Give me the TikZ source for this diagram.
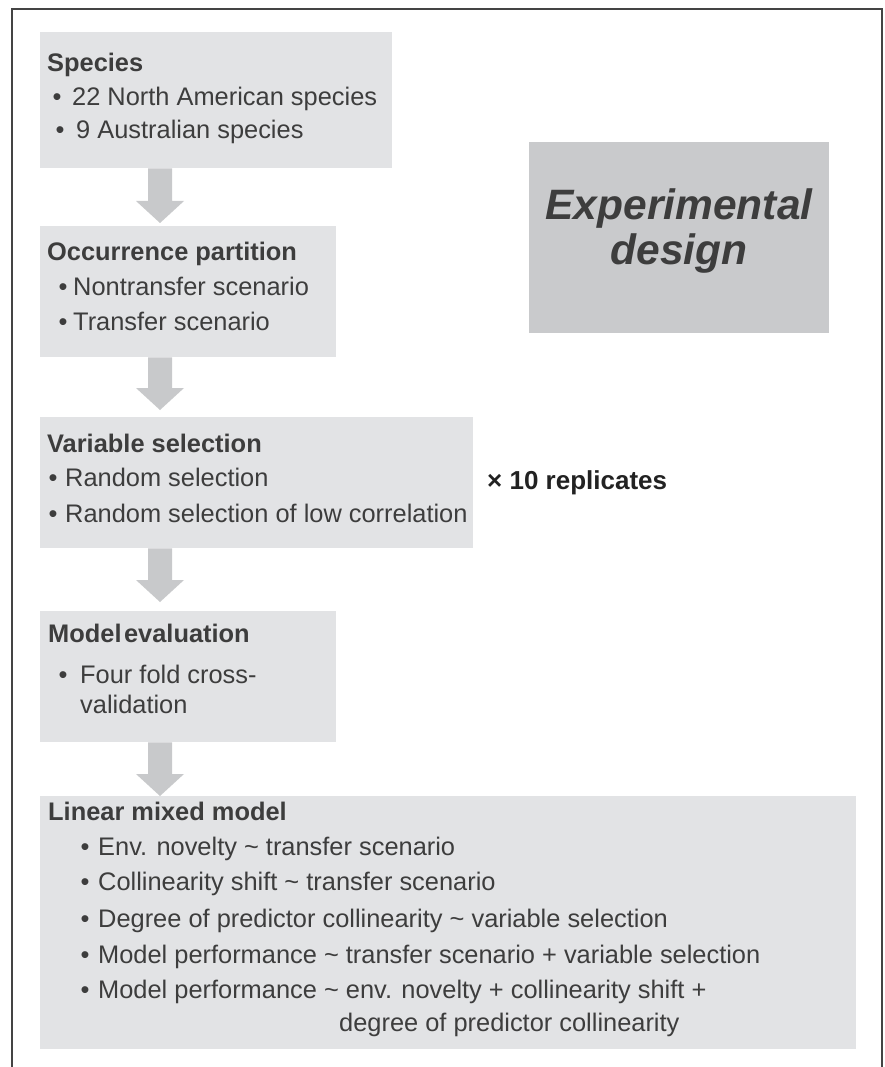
\documentclass[tikz,border=0pt]{standalone}
\usepackage{fontspec}
\setmainfont{Liberation Sans}
\usetikzlibrary{calc}
\definecolor{boxfill}{HTML}{E2E3E5}
\definecolor{expfill}{HTML}{C9CACC}
\definecolor{arrowfill}{HTML}{C8C9CB}
\definecolor{txtc}{HTML}{3D3D3D}
\definecolor{repc}{HTML}{222222}
\definecolor{framec}{HTML}{444444}
\tikzset{
  box/.style={fill=boxfill, draw=none, inner sep=0pt, anchor=north west},
  expbox/.style={fill=expfill, draw=none, inner sep=0pt, anchor=north west},
  txt/.style={inner sep=0pt, text=txtc, font=\fontsize{25.4}{30}\selectfont},
  ttl/.style={txt, anchor=base west, font=\fontsize{25.4}{30}\selectfont\bfseries},
  ln/.style={txt, anchor=base west},
  dot/.style={txt, anchor=base},
}
\newcommand\blockarrow[3]{%
  \fill[arrowfill] let \p1=(#1.south west), \p2=(#2.north west) in
    (\x1+108pt,\y1) -- (\x1+132pt,\y1) -- (\x1+132pt,\y2+#3pt+22pt) --
    (\x1+144pt,\y2+#3pt+22pt) -- (\x1+120pt,\y2+#3pt) --
    (\x1+96pt,\y2+#3pt+22pt) -- (\x1+108pt,\y2+#3pt+22pt) -- cycle;}
\newcommand\bul[5]{%
  \node[dot] (#1-b) at (#2,#4) {•};
  \node[ln] (#1) at (#3,#4) {#5};}
\begin{document}
\begin{tikzpicture}[x=1pt,y=-1pt]
\useasboundingbox (0,0) rectangle (885,1067);
\fill[white] (0,0) rectangle (885,1067);
% frame (open at the bottom)
\draw[framec, line width=2.2pt] (12,1067) -- (12,9) -- (882,9) -- (882,1067);
% boxes
\node[box, minimum width=352pt, minimum height=136pt] (b1) at (40,32) {};
\node[box, minimum width=296pt, minimum height=131pt] (b2) at (40,226) {};
\node[box, minimum width=433pt, minimum height=131pt] (b3) at (40,417) {};
\node[box, minimum width=296pt, minimum height=131pt] (b4) at (40,611) {};
\node[box, minimum width=816pt, minimum height=253pt] (b5) at (40,796) {};
\node[expbox, minimum width=300pt, minimum height=191pt] (exp) at (529,142) {};
% arrows
\blockarrow{b1}{b2}{3}
\blockarrow{b2}{b3}{7}
\blockarrow{b3}{b4}{9}
\blockarrow{b4}{b5}{0}
% title box
\node[inner sep=0pt, text=txtc, anchor=base, font=\fontsize{42.5}{46}\selectfont\bfseries\itshape] (expt1) at (679,220) {Experimental};
\node[inner sep=0pt, text=txtc, anchor=base, font=\fontsize{42.5}{46}\selectfont\bfseries\itshape] (expt2) at (679,265) {design};
% box 1
\node[ttl] (t1) at (47,72) {Species};
\bul{l11}{57}{72}{106}{22 North American species}
\bul{l12}{60}{76}{139}{9 Australian species}
% box 2
\node[ttl] (t2) at (47,260) {Occurrence partition};
\bul{l21}{63}{73}{295}{Nontransfer scenario}
\bul{l22}{63}{73}{330}{Transfer scenario}
% box 3
\node[ttl] (t3) at (47,452) {Variable selection};
\bul{l31}{53}{65}{486}{Random selection}
\bul{l32}{53}{65}{522}{Random selection of low correlation}
% replicates
\node[inner sep=0pt, anchor=base west, text=repc, font=\fontsize{26}{30}\selectfont\bfseries] (rep) at (487,489) {× 10 replicates};
% box 4
\node[ttl] (t4) at (48,642) {Model\hspace{0.1em}evaluation};
\bul{l41}{63}{80}{683}{Four fold cross-}
\node[ln] (l42) at (80,713) {validation};
% box 5
\node[ttl] (t5) at (48,820) {Linear mixed model};
\bul{l51}{85}{98}{855}{Env. novelty \textasciitilde{} transfer scenario}
\bul{l52}{85}{98}{890}{Collinearity shift \textasciitilde{} transfer scenario}
\bul{l53}{85}{98}{927}{Degree of predictor collinearity \textasciitilde{} variable selection}
\bul{l54}{85}{98}{963}{Model performance \textasciitilde{} transfer scenario + variable selection}
\bul{l55}{85}{98}{998}{Model performance \textasciitilde{} env. novelty + collinearity shift +}
\node[ln] (l56) at (339,1031) {degree of predictor collinearity};
\end{tikzpicture}
\end{document}
